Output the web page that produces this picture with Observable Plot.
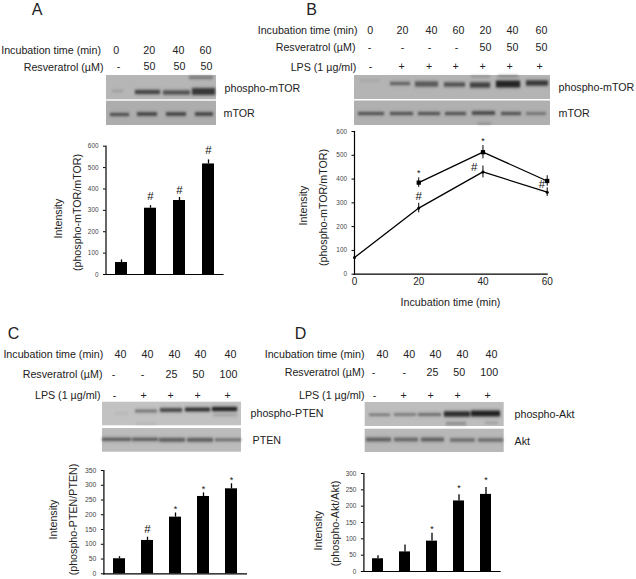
<!DOCTYPE html>
<html><head><meta charset="utf-8">
<script src="https://cdn.jsdelivr.net/npm/d3@7"></script>
<script src="https://cdn.jsdelivr.net/npm/@observablehq/plot@0.6"></script>
<style>
html,body{margin:0;padding:0;background:#fff}
#fig{position:relative;width:636px;height:579px;overflow:hidden}
</style></head><body><div id="fig"></div>
<script>
// ---------- data ----------
const timeA = ["0","20","40","60"], resA = ["-","50","50","50"];
const timeB = ["0","20","40","60","20","40","60"], resB = ["-","-","-","-","50","50","50"], lpsB = ["-","+","+","+","+","+","+"];
const timeC = ["40","40","40","40","40"], resC = ["-","-","25","50","100"], lpsC = ["-","+","+","+","+"];
const timeD = timeC, resD = resC, lpsD = lpsC;

const lanesA = ["a","b","c","d"];
const valuesA = [56,310,346,517], errTopA = [68,322,360,536];
const marksA = ["","#","#","#"], markAtA = [0,366,396,580];

const minutes = [0,20,40,60];
const lpsOnly = [70,278,430,345], lpsOnlyErr = [20,20,25,18];
const minutesRes = [20,40,60];
const lpsRes = [385,513,392], lpsResErr = [20,28,22];

const lanes5 = ["a","b","c","d","e"];
const valuesC = [51,113,192,262,288], errTopC = [58,124,206,274,305];
const marksC = ["","#","*","*","*"], markAtC = [0,151,223,291,322];
const valuesD = [39,60,93,216,236], errTopD = [48,81,117,235,257];
const marksD = ["","","*","*","*"], markAtD = [0,0,134,261,284];

// band density per lane, strongest = 1
const densA1 = [.15,.62,.55,.72,.35], densA2 = [.62,.68,.68,.68];
const densB1 = [.1,.45,.5,.55,.65,.85,.7,.25,.3], densB2 = [.6,.6,.6,.6,.65,.6,.42,.25];
const densC1 = [.08,.4,.65,.78,.85,.18,.08], densC2 = [.5,.5,.5,.5,.42];
const densD1 = [.45,.5,.55,.8,.88,.25,.18], densD2 = [.48,.42,.48,.42,.42];

// ---------- layout (page pixels), separate from the data ----------
const FONT = "'Liberation Sans', Arial, sans-serif";
const blots = [
  [106,216,75,99.3,"#b6b6b6"],[106,216,100.7,125,"#adadad"],
  [354,550,75,99,"#b4b4b4"],[354,550,100.5,125,"#b0b0b0"],
  [102,241,401.7,425.3,"#c2c2c2"],[102,241,428,451.7,"#bcbcbc"],
  [364.7,503.7,402,426,"#bdbdbd"],[364.7,503.7,428.7,452,"#b8b8b8"]
];
const bandBoxes = [
  [densA1,[[112,123,91,1.5],[135,160,92,4],[163,190,92.5,4],[192,215,91.5,6.5],[189,213,77.5,2.5]]],
  [densA2,[[110,129,114.5,2.5],[137,157,114,3],[166,186,114,3],[195,213,114,3]]],
  [densB1,[[360,380,80.5,1],[390,410,83.5,3],[415,438,84,5],[444,465,84.5,4],[470,490,85,5],[496,520,84,6.5],[526,548,83,5],[471,490,76.5,1],[498,518,76,1.5]]],
  [densB2,[[358,384,113.5,2.5],[390,413,113.5,2.5],[418,440,113.5,2.5],[445,466,113.5,2.5],[472,495,113,3],[501,521,113.5,2.5],[526,546,113.5,2],[478,491,123.5,1]]],
  [densC1,[[115,128,413.3,1],[135,157,411,2.5],[160,182,410,3.5],[185,210,409.5,3.5],[212,237,409,4],[213,237,415,1.5],[136,156,424,1]]],
  [densC2,[[102,131,439.3,3],[132,158,439.3,3],[159,185,439.8,3.5],[187,213,439.8,3.5],[215,241,439.8,2.5]]],
  [densD1,[[369,390,414.7,1.5],[394,416,414.5,1.5],[418,441,414.5,1.8],[444,470,414,5],[471,500,413.5,5.5],[446,466,423.5,2.5],[485,498,422.7,1.5]]],
  [densD2,[[366,391,439.5,3.5],[394,418,439.5,3.5],[421,444,439.5,3.5],[450,475,440,3],[478,503,440,3]]]
];
const TS = 10.7;
const texts = [];
const put = (t,x,y,o={}) => texts.push({t,x,y,anchor:o.anchor||"middle",size:o.size||TS,rot:o.rot||0});
const row = (vals,xs,y) => vals.forEach((v,i)=>put(v,xs[i],y));
const rowLabel = (t,x,y) => put(t,x,y,{anchor:"end"});
const side = (t,x,y) => put(t,x,y,{anchor:"start"});
const ytitle = (t,x,y) => put(t,x,y,{rot:-90});

["A",36.5,9,"B",311,9,"C",13,333,"D",300,333].forEach((_, i, a)=>{ if(i%3==0) put(a[i],a[i+1],a[i+2],{size:16}); });

rowLabel("Incubation time (min)",100.5,50); rowLabel("Resveratrol (µM)",103,67);
row(timeA,[115.7,148.7,178,205],50); row(resA,[118,149,179,206],66.5);
side("phospho-mTOR",224,88); side("mTOR",223,113);

rowLabel("Incubation time (min)",357,30); rowLabel("Resveratrol (µM)",355,47.5); rowLabel("LPS (1 µg/ml)",355.7,67);
row(timeB,[369.7,402,431,458,485,512,541],30); row(resB,[369,402,429,456,485,512,541],47.5); row(lpsB,[370,401,428.7,455,482,509,539],66.5);
side("phospho-mTOR",558,87); side("mTOR",558,113);

rowLabel("Incubation time (min)",102.7,354); rowLabel("Resveratrol (µM)",102,374); rowLabel("LPS (1 µg/ml)",100,395);
row(timeC,[120,147,174,200,230],354); row(resC,[113,142,171,198,228],374); row(lpsC,[114,143,170,197,227],394.7);
side("phospho-PTEN",250,413); side("PTEN",252,440);

rowLabel("Incubation time (min)",364,354); rowLabel("Resveratrol (µM)",364,372); rowLabel("LPS (1 µg/ml)",364,395);
row(timeD,[382,408.7,435,462,491],354); row(resD,[373,403.7,432,458.7,488.7],372); row(lpsD,[374,403,430,457,487],395);
side("phospho-Akt",514,413.7); side("Akt",514,441);

ytitle("Intensity",58,218); ytitle("(phospho-mTOR/mTOR)",77,212);
ytitle("Intensity",303,205); ytitle("(phospho-mTOR/mTOR)",323,207);
ytitle("Intensity",53,519); ytitle("(phospho-PTEN/PTEN)",73,519);
ytitle("Intensity",318,530); ytitle("(phospho-Akt/Akt)",335,523);
put("Incubation time (min)",450,301.7);

// ---------- drawing ----------
const fig = document.getElementById("fig");
const baseStyle = {position:"absolute",left:"0",top:"0",background:"transparent",fontFamily:FONT,overflow:"visible",maxWidth:"none"};
const add = (opts,extra={}) => fig.appendChild(Plot.plot({width:636,height:579,style:{...baseStyle,...extra},...opts}));
const page = {margin:0,x:{type:"identity",axis:null},y:{type:"identity",axis:null},opacity:{type:"identity"}};

// blot backgrounds
add({...page,marks:[Plot.rect(blots,{x1:d=>d[0],x2:d=>d[1],y1:d=>d[2],y2:d=>d[3],fill:d=>d[4]})]});
// blot bands: soft halo, then dark core
const bands = bandBoxes.flatMap(([dens,boxes]) => boxes.map((b,i)=>({b,dens:dens[i]})));
add({...page,marks:[Plot.rect(bands,{x1:d=>d.b[0],x2:d=>d.b[1],y1:d=>d.b[2]-d.b[3]/2-1.5,y2:d=>d.b[2]+d.b[3]/2+1.5,fill:"#555",fillOpacity:d=>d.dens*.35})]},{filter:"blur(1.6px)"});
add({...page,marks:[Plot.rect(bands,{x1:d=>d.b[0],x2:d=>d.b[1],y1:d=>d.b[2]-d.b[3]/2,y2:d=>d.b[2]+d.b[3]/2,fill:"#111",fillOpacity:"dens"})]},{filter:"blur(1px)"});

// texts
add({...page,marks:[Plot.text(texts,{x:"x",y:"y",text:"t",textAnchor:"middle",filter:d=>d.anchor==="middle"&&!d.rot,fontSize:d=>d.size,fill:"#222"}),
  Plot.text(texts,{x:"x",y:"y",text:"t",textAnchor:"end",filter:d=>d.anchor==="end",fontSize:TS,fill:"#222"}),
  Plot.text(texts,{x:"x",y:"y",text:"t",textAnchor:"start",filter:d=>d.anchor==="start",fontSize:TS,fill:"#222"}),
  Plot.text(texts,{x:"x",y:"y",text:"t",textAnchor:"middle",rotate:-90,filter:d=>d.rot,fontSize:TS,fill:"#222"})]});

// bar panels
function barPanel({lanes,values,errTop,marks,markAt,domain,ticks,left,right,top,bottom,pad,tick}){
  const rows = lanes.map((k,i)=>({k,v:values[i],e:errTop[i],m:marks[i],at:markAt[i]}));
  const pi = pad, po = pad/2;
  add({marginLeft:left,marginRight:636-right,marginTop:top,marginBottom:579-bottom,
    x:{type:"band",domain:lanes,paddingInner:pi,paddingOuter:po,axis:null},
    y:{domain,axis:null},
    marks:[
      Plot.barY(rows,{x:"k",y:"v",fill:"#000"}),
      Plot.ruleX(rows,{x:"k",y1:"v",y2:"e",stroke:"#000",strokeWidth:1.3}),
      Plot.text(rows.filter(d=>d.m==="#"),{x:"k",y:"at",text:"m",fontSize:11.5,fill:"#111"}),
      Plot.text(rows.filter(d=>d.m==="*"),{x:"k",y:"at",text:"m",fontSize:9,fill:"#111",dy:1.5}),
      Plot.frame({anchor:"left",stroke:"#000",strokeWidth:1.2}),
      Plot.frame({anchor:"bottom",stroke:"#000",strokeWidth:1.2}),
      Plot.axisY({ticks,tickSize:2.5,tickPadding:5,fontSize:tick,fill:"#444",stroke:"#000",label:null})
    ]});
}
barPanel({lanes:lanesA,values:valuesA,errTop:errTopA,marks:marksA,markAt:markAtA,domain:[0,600],ticks:d3.range(0,601,100),left:105.5,right:222.5,top:145.7,bottom:274,pad:.6,tick:6.4});
barPanel({lanes:lanes5,values:valuesC,errTop:errTopC,marks:marksC,markAt:markAtC,domain:[0,350],ticks:d3.range(0,351,50),left:103.4,right:245.9,top:470,bottom:573.3,pad:.58,tick:6.8});
barPanel({lanes:lanes5,values:valuesD,errTop:errTopD,marks:marksD,markAt:markAtD,domain:[0,300],ticks:d3.range(0,301,50),left:363.4,right:499.6,top:473,bottom:571,pad:.6,tick:6.4});

// line panel B
const s1 = minutes.map((x,i)=>({x,y:lpsOnly[i],e:lpsOnlyErr[i]}));
const s2 = minutesRes.map((x,i)=>({x,y:lpsRes[i],e:lpsResErr[i]}));
const notes = [{x:20,y:425,t:"*",s:9},{x:40,y:560,t:"*",s:9},{x:20,y:328,t:"#",s:11.5},{x:37.3,y:450,t:"#",s:11.5},{x:58.4,y:376,t:"#",s:11.5}];
add({marginLeft:354,marginRight:636-546.7,marginTop:131,marginBottom:579-273.7,
  x:{domain:[0,60],axis:null},y:{domain:[0,600],axis:null},
  marks:[
    Plot.line(s1,{x:"x",y:"y",stroke:"#000",strokeWidth:1.3}),
    Plot.line(s2,{x:"x",y:"y",stroke:"#000",strokeWidth:1.3}),
    Plot.ruleX(s1,{x:"x",y1:d=>d.y-d.e,y2:d=>d.y+d.e,stroke:"#000",strokeWidth:1}),
    Plot.ruleX(s2,{x:"x",y1:d=>d.y-d.e,y2:d=>d.y+d.e,stroke:"#000",strokeWidth:1}),
    Plot.dot(s1,{x:"x",y:"y",r:1.5,fill:"#000"}),
    Plot.dot(s2,{x:"x",y:"y",r:2.4,symbol:"square",fill:"#000"}),
    Plot.text(notes,{x:"x",y:"y",text:"t",fontSize:d=>d.s,fill:"#111"}),
    Plot.frame({anchor:"left",stroke:"#000",strokeWidth:1.2}),
    Plot.frame({anchor:"bottom",stroke:"#000",strokeWidth:1.2}),
    Plot.axisY({ticks:d3.range(0,601,100),tickSize:2.5,tickPadding:5,fontSize:6.4,fill:"#444",stroke:"#000",label:null}),
    Plot.axisX({ticks:minutes,tickSize:0,tickPadding:4,fontSize:10,fill:"#222",label:null})
  ]});
</script></body></html>
